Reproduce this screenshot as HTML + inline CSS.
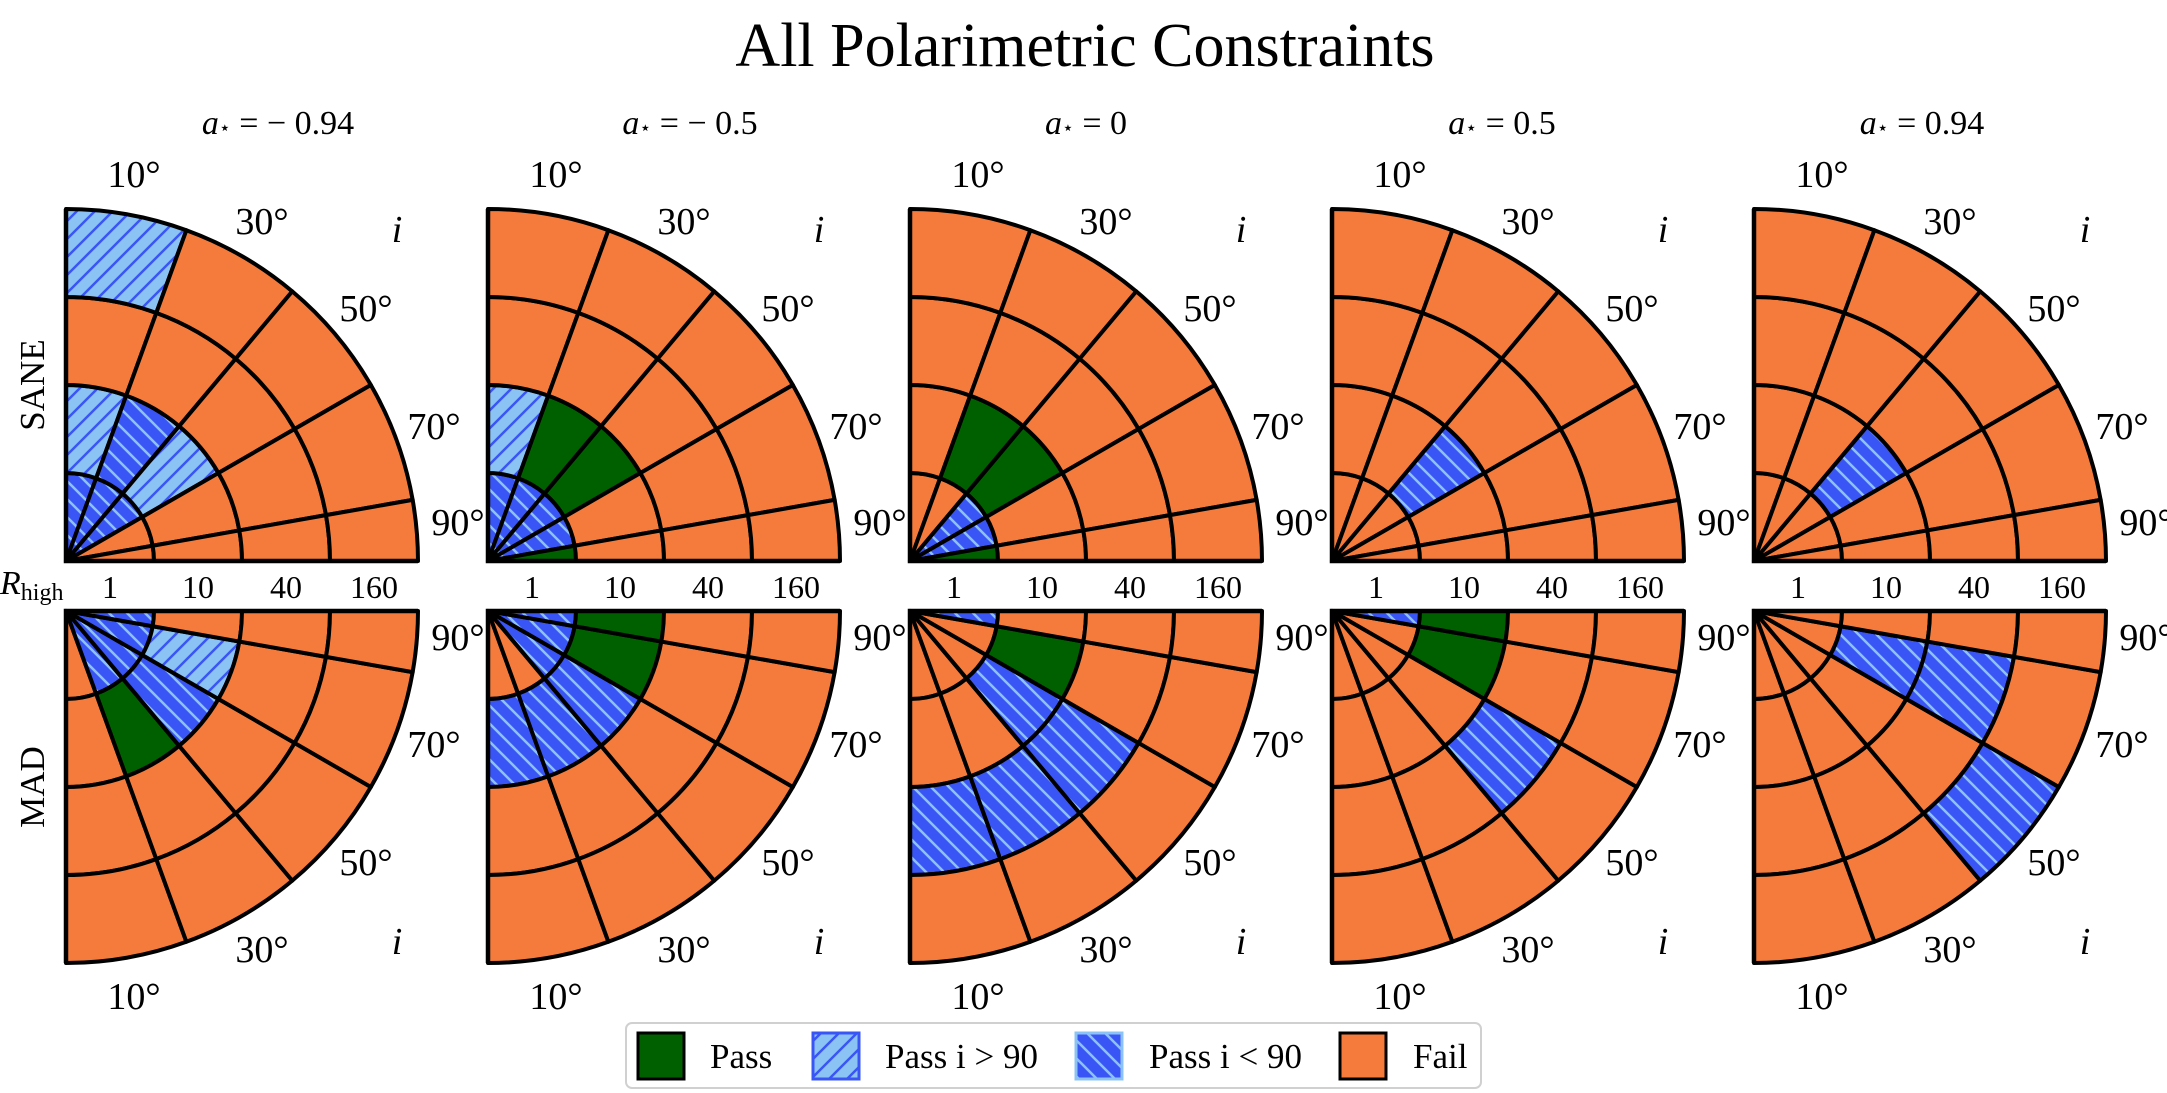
<!DOCTYPE html>
<html><head><meta charset="utf-8"><style>
html,body{margin:0;padding:0;background:#fff;}
svg{display:block;font-family:"Liberation Serif",serif;}
text{font-family:"Liberation Serif",serif;}
</style></head><body>
<div style="position:relative;width:2167px;height:1093px">
<svg id="s" width="2167" height="1093" viewBox="0 0 2167 1093" xmlns="http://www.w3.org/2000/svg" style="position:absolute;left:0;top:0">
<defs>
<pattern id="hL" patternUnits="userSpaceOnUse" width="18" height="18">
<rect width="18" height="18" fill="#8cc3f5"/>
<path d="M0,18 L18,0 M-4.5,4.5 L4.5,-4.5 M13.5,22.5 L22.5,13.5" stroke="#3a55f5" stroke-width="2.5"/>
</pattern>
<pattern id="hD" patternUnits="userSpaceOnUse" width="18" height="18">
<rect width="18" height="18" fill="#3a55f5"/>
<path d="M0,0 L18,18 M-4.5,13.5 L4.5,22.5 M13.5,-4.5 L22.5,4.5" stroke="#8cc3f5" stroke-width="2.5"/>
</pattern>
</defs>
<g id="cells"></g>
<text x="1085" y="66" font-size="62" text-anchor="middle">All Polarimetric Constraints</text>
<g font-size="34" text-anchor="middle">
<text x="278" y="134"><tspan font-style="italic">a</tspan><tspan font-size="19">⋆</tspan> = − 0.94</text>
<text x="690" y="134"><tspan font-style="italic">a</tspan><tspan font-size="19">⋆</tspan> = − 0.5</text>
<text x="1086" y="134"><tspan font-style="italic">a</tspan><tspan font-size="19">⋆</tspan> = 0</text>
<text x="1502" y="134"><tspan font-style="italic">a</tspan><tspan font-size="19">⋆</tspan> = 0.5</text>
<text x="1922" y="134"><tspan font-style="italic">a</tspan><tspan font-size="19">⋆</tspan> = 0.94</text>
</g>
<text x="0" y="594" font-size="34" font-style="italic">R<tspan font-style="normal" font-size="24" dy="6">high</tspan></text>
<text transform="translate(44,385) rotate(-90)" font-size="35" text-anchor="middle">SANE</text>
<text transform="translate(44,787) rotate(-90)" font-size="35" text-anchor="middle">MAD</text>
<g>
<rect x="626" y="1023" width="855" height="65" rx="6" fill="#fff" stroke="#d0d0d0" stroke-width="2"/>
<rect x="638" y="1033" width="46" height="46" fill="#006000" stroke="#000" stroke-width="3"/>
<rect x="813" y="1033" width="46" height="46" fill="url(#hL)" stroke="#3a55f5" stroke-width="3"/>
<rect x="1076" y="1033" width="46" height="46" fill="url(#hD)" stroke="#8cc3f5" stroke-width="3"/>
<rect x="1340" y="1033" width="46" height="46" fill="#f47b3c" stroke="#000" stroke-width="3"/>
<g font-size="35">
<text x="710" y="1068">Pass</text>
<text x="885" y="1068">Pass i &gt; 90</text>
<text x="1149" y="1068">Pass i &lt; 90</text>
<text x="1413" y="1068">Fail</text>
</g>
</g>
<g font-size="38" text-anchor="middle" dominant-baseline="central">
<text x="134" y="175">10°</text><text x="262" y="222">30°</text><text x="366" y="309">50°</text><text x="434" y="427">70°</text><text x="458" y="523">90°</text><text x="397" y="230" font-style="italic">i</text>
<text x="134" y="997">10°</text><text x="262" y="950">30°</text><text x="366" y="863">50°</text><text x="434" y="745">70°</text><text x="458" y="638">90°</text><text x="397" y="942" font-style="italic">i</text>
<text x="556" y="175">10°</text><text x="684" y="222">30°</text><text x="788" y="309">50°</text><text x="856" y="427">70°</text><text x="880" y="523">90°</text><text x="819" y="230" font-style="italic">i</text>
<text x="556" y="997">10°</text><text x="684" y="950">30°</text><text x="788" y="863">50°</text><text x="856" y="745">70°</text><text x="880" y="638">90°</text><text x="819" y="942" font-style="italic">i</text>
<text x="978" y="175">10°</text><text x="1106" y="222">30°</text><text x="1210" y="309">50°</text><text x="1278" y="427">70°</text><text x="1302" y="523">90°</text><text x="1241" y="230" font-style="italic">i</text>
<text x="978" y="997">10°</text><text x="1106" y="950">30°</text><text x="1210" y="863">50°</text><text x="1278" y="745">70°</text><text x="1302" y="638">90°</text><text x="1241" y="942" font-style="italic">i</text>
<text x="1400" y="175">10°</text><text x="1528" y="222">30°</text><text x="1632" y="309">50°</text><text x="1700" y="427">70°</text><text x="1724" y="523">90°</text><text x="1663" y="230" font-style="italic">i</text>
<text x="1400" y="997">10°</text><text x="1528" y="950">30°</text><text x="1632" y="863">50°</text><text x="1700" y="745">70°</text><text x="1724" y="638">90°</text><text x="1663" y="942" font-style="italic">i</text>
<text x="1822" y="175">10°</text><text x="1950" y="222">30°</text><text x="2054" y="309">50°</text><text x="2122" y="427">70°</text><text x="2146" y="523">90°</text><text x="2085" y="230" font-style="italic">i</text>
<text x="1822" y="997">10°</text><text x="1950" y="950">30°</text><text x="2054" y="863">50°</text><text x="2122" y="745">70°</text><text x="2146" y="638">90°</text><text x="2085" y="942" font-style="italic">i</text>
</g>
<g font-size="32" text-anchor="middle" dominant-baseline="central">
<text x="110" y="587">1</text><text x="198" y="587">10</text><text x="286" y="587">40</text><text x="374" y="587">160</text>
<text x="532" y="587">1</text><text x="620" y="587">10</text><text x="708" y="587">40</text><text x="796" y="587">160</text>
<text x="954" y="587">1</text><text x="1042" y="587">10</text><text x="1130" y="587">40</text><text x="1218" y="587">160</text>
<text x="1376" y="587">1</text><text x="1464" y="587">10</text><text x="1552" y="587">40</text><text x="1640" y="587">160</text>
<text x="1798" y="587">1</text><text x="1886" y="587">10</text><text x="1974" y="587">40</text><text x="2062" y="587">160</text>
</g>
</svg>
</div>
<script>
(function(){
var NS="http://www.w3.org/2000/svg";
var col={O:"#f47b3c",G:"#006000",L:"url(#hL)",D:"url(#hD)"};
var top=[
["DDDOO","LDLOO","OOOOO","LOOOO"],
["DDDDG","LGGOO","OOOOO","OOOOO"],
["OODDG","OGGOO","OOOOO","OOOOO"],
["OOOOO","OODOO","OOOOO","OOOOO"],
["OOOOO","OODOO","OOOOO","OOOOO"]];
var bot=[
["ODDDD","OGDLO","OOOOO","OOOOO"],
["OODDD","DDDGG","OOOOO","OOOOO"],
["OOOOD","OODGO","DDDOO","OOOOO"],
["OOOOD","OOOGG","OODOO","OOOOO"],
["OOOOO","OOODO","OOODO","OODOO"]];
var g=document.getElementById("cells");
var R=88;
function pt(cx,cy,r,a){var t=a*Math.PI/180;return [cx+r*Math.cos(t),cy-r*Math.sin(t)];}
function cell(cx,cy,r0,r1,a0,a1,fill){
 var p1=pt(cx,cy,r1,a0),p2=pt(cx,cy,r1,a1),d;
 d="M"+(r0>0?pt(cx,cy,r0,a0).join(","):cx+","+cy)+" L"+p1.join(",")+" A"+r1+","+r1+" 0 0 0 "+p2.join(",");
 if(r0>0){var p3=pt(cx,cy,r0,a1),p4=pt(cx,cy,r0,a0);d+=" L"+p3.join(",")+" A"+r0+","+r0+" 0 0 1 "+p4.join(",");}
 d+=" Z";
 var e=document.createElementNS(NS,"path");
 e.setAttribute("d",d);e.setAttribute("fill",fill);e.setAttribute("stroke","#000");
 e.setAttribute("stroke-width","4");e.setAttribute("stroke-linejoin","round");
 g.appendChild(e);
}
for(var p=0;p<5;p++){
 var cx=66+422*p;
 for(var row=0;row<2;row++){
  var cy=row==0?561:611, data=row==0?top[p]:bot[p];
  for(var j=0;j<4;j++)for(var k=0;k<5;k++){
   var c=80-20*k, lo=Math.max(0,c-10), hi=c+10, a0,a1;
   if(row==0){a0=lo;a1=hi;}else{a0=-hi;a1=-lo;}
   cell(cx,cy,j*R,(j+1)*R,a0,a1,col[data[j][k]]);
  }
  var e=document.createElementNS(NS,"path");
  var o1=pt(cx,cy,352,row==0?90:-90);
  e.setAttribute("d","M"+o1.join(",")+" L"+cx+","+cy+" L"+(cx+352)+","+cy);
  e.setAttribute("fill","none");e.setAttribute("stroke","#000");e.setAttribute("stroke-width","4.5");
  g.appendChild(e);
 }
}
})();
</script>
</body></html>
